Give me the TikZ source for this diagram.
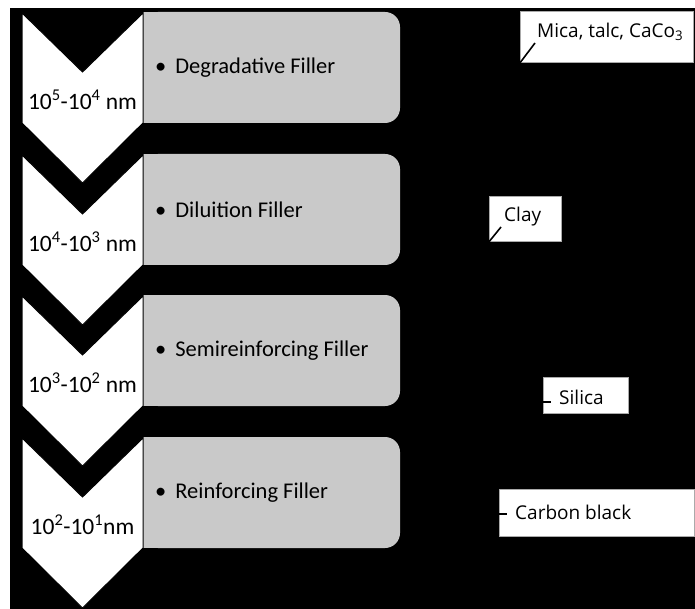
\documentclass[tikz,border=0pt]{standalone}
\usepackage{fontspec}
\setmainfont{Carlito}
\newfontfamily\calloutfont{Open Sans}
\usetikzlibrary{positioning}
\definecolor{tabgrey}{RGB}{201, 201, 201}
\definecolor{edgegrey}{RGB}{170, 170, 170}

\tikzset{
  stagetext/.style={anchor=west, inner sep=0pt, font=\fontsize{22.5}{27}\selectfont},
  rangetext/.style={inner sep=0pt, font=\fontsize{23.5}{28}\selectfont},
  calloutbox/.style={anchor=north west, fill=white, draw=edgegrey, line width=0.8pt, inner sep=0pt},
  callouttext/.style={anchor=west, inner sep=0pt, font=\calloutfont\fontsize{19}{23}\selectfont},
  leader/.style={black, line width=1.6pt},
}

\begin{document}
\begin{tikzpicture}[x=1pt, y=-1pt]
    % page and black backdrop
    \useasboundingbox (0,0) rectangle (695,609);
    \fill[white] (0,0) rectangle (695,609);
    \fill[black] (10,8) rectangle (695,609);

    % size stages: grey tab, white chevron, labels
    \foreach \ytop/\n/\range/\stage in {
        13/1/{10\textsuperscript{5}-10\textsuperscript{4} nm}/{Degradative Filler},
        155/2/{10\textsuperscript{4}-10\textsuperscript{3} nm}/{Diluition Filler},
        296/3/{10\textsuperscript{3}-10\textsuperscript{2} nm}/{Semireinforcing Filler},
        438/4/{10\textsuperscript{2}-10\textsuperscript{1}nm}/{Reinforcing Filler}} {
        \fill[tabgrey, rounded corners=15pt] (143,\ytop-1) rectangle (400,\ytop+110);
        \fill[tabgrey] (143,\ytop-1) rectangle (300,\ytop+110);
        \filldraw[fill=white, draw=black, line width=1pt]
            (22,\ytop) -- (82.5,\ytop+59) -- (143,\ytop) -- (143,\ytop+110)
            -- (82.5,\ytop+170) -- (22,\ytop+110) -- cycle;
        \node[rangetext] (range\n) at (82.5,\ytop+87) {\range};
        \node[stagetext] (stage\n) at (155,\ytop+55) {•\hspace{9pt}\stage};
    }

    % callouts on the right
    \node[calloutbox, minimum width=173pt, minimum height=51pt] (micabox) at (520,11) {};
    \node[callouttext] (mica) at (537,32) {Mica, talc, CaCo\textsubscript{3}};
    \coordinate (micatip) at (535,43);
    \draw[leader] (micabox.south west) -- (micatip);

    \node[calloutbox, minimum width=72pt, minimum height=45pt] (claybox) at (489,196) {};
    \node[callouttext] (clay) at (504,217) {Clay};
    \coordinate (claytip) at (501,227);
    \draw[leader] (claybox.south west) -- (claytip);

    \node[calloutbox, minimum width=85pt, minimum height=36pt] (silicabox) at (543,377) {};
    \node[callouttext] (silica) at (559,397) {Silica};
    \coordinate (silicatip) at (551,402);
    \draw[leader] (silicatip -| silicabox.west) -- (silicatip);

    \node[calloutbox, minimum width=195pt, minimum height=47pt] (carbonbox) at (499,489) {};
    \node[callouttext] (carbon) at (515,512) {Carbon black};
    \coordinate (carbontip) at (507,514);
    \draw[leader] (carbontip -| carbonbox.west) -- (carbontip);
\end{tikzpicture}
\end{document}
